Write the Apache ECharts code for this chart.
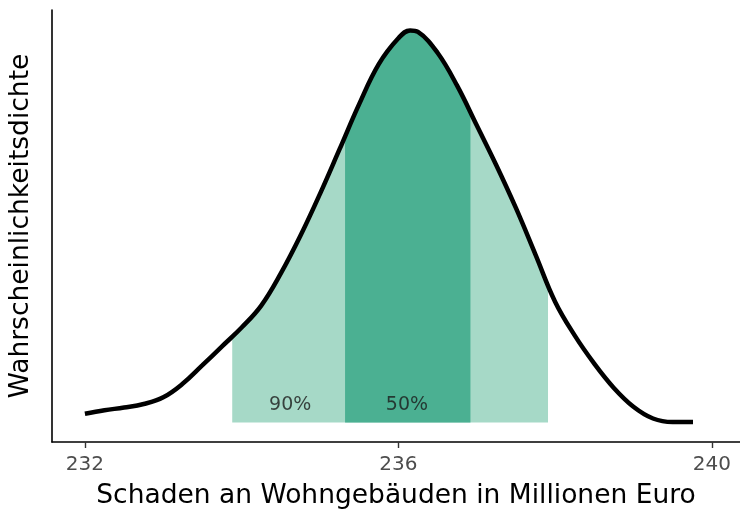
<!DOCTYPE html>
<html>
<head>
<meta charset="utf-8">
<script src="https://cdn.jsdelivr.net/npm/echarts@6/dist/echarts.min.js"></script>
<style>
  html, body { margin: 0; padding: 0; background: #fff; }
  #chart { width: 740px; height: 515px; }
</style>
</head>
<body>
<div id="chart"></div>
<script>
// density curve (x in Mio. Euro, y relative density)
const curveX = [232.00, 232.25, 232.50, 232.75, 233.00, 233.25, 233.50, 233.75, 234.00, 234.25,
  234.50, 234.75, 235.00, 235.25, 235.50, 235.75, 236.00, 236.15, 236.25, 236.50,
  236.75, 237.00, 237.25, 237.50, 237.75, 238.00, 238.25, 238.50, 238.75, 239.00,
  239.25, 239.50, 239.76];
const curveY = [0.022, 0.031, 0.038, 0.047, 0.064, 0.099, 0.146, 0.194, 0.242, 0.298,
  0.380, 0.476, 0.583, 0.697, 0.812, 0.914, 0.980, 1.000, 0.996, 0.943,
  0.859, 0.758, 0.656, 0.547, 0.428, 0.308, 0.222, 0.150, 0.088, 0.040,
  0.010, 0.001, 0.001];

// interval bounds and the curve height at each bound
const band90 = [233.88, 237.91];
const band90Top = [0.217, 0.349];
const band50 = [235.32, 236.92];
const band50Top = [0.729, 0.789];

const bandLabels = ['90%', '50%'];
const bandLabelX = [234.62, 236.11];
const bandLabelY = 0.045;

const tickValues = [232, 236, 240];

const curve = curveX.map((x, i) => [x, curveY[i]]);

function bandData(range, tops) {
  const inner = curve.filter(p => p[0] > range[0] && p[0] < range[1]);
  return [[range[0], tops[0]], ...inner, [range[1], tops[1]]];
}

const fontFamily = 'DejaVu Sans';
const smooth = 0.4;

echarts.init(document.getElementById('chart')).setOption({
  animation: false,
  grid: { left: 52, right: 0, top: 10, bottom: 72 },
  xAxis: {
    type: 'value',
    min: 231.58,
    max: 240.36,
    name: 'Schaden an Wohngebäuden in Millionen Euro',
    nameLocation: 'middle',
    nameGap: 41,
    nameTextStyle: { fontFamily, fontSize: 26.5, color: '#000' },
    axisLine: { show: true, onZero: false, lineStyle: { color: '#000', width: 1.6 } },
    axisTick: { show: true, length: 6, customValues: tickValues, lineStyle: { color: '#333', width: 1.4 } },
    axisLabel: { customValues: tickValues, fontFamily, fontSize: 20, color: '#4d4d4d', margin: 13 },
    splitLine: { show: false }
  },
  yAxis: {
    type: 'value',
    min: -0.05,
    max: 1.052,
    name: 'Wahrscheinlichkeitsdichte',
    nameLocation: 'middle',
    nameGap: 17,
    nameTextStyle: { fontFamily, fontSize: 26.5, color: '#000' },
    axisLine: { show: true, onZero: false, lineStyle: { color: '#000', width: 1.6 } },
    axisTick: { show: false },
    axisLabel: { show: false },
    splitLine: { show: false }
  },
  series: [
    {
      type: 'line',
      data: bandData(band90, band90Top),
      smooth,
      showSymbol: false,
      lineStyle: { width: 0 },
      areaStyle: { color: '#a6d9c7', opacity: 1, origin: 0 },
      z: 1
    },
    {
      type: 'line',
      data: bandData(band50, band50Top),
      smooth,
      showSymbol: false,
      lineStyle: { width: 0 },
      areaStyle: { color: '#4bb092', opacity: 1, origin: 0 },
      z: 2
    },
    {
      type: 'line',
      data: curve,
      smooth,
      showSymbol: false,
      lineStyle: { color: '#000', width: 4.5 },
      z: 3
    },
    {
      type: 'scatter',
      data: bandLabels.map((t, i) => [bandLabelX[i], bandLabelY, t]),
      symbolSize: 0,
      label: {
        show: true,
        position: 'inside',
        formatter: p => p.value[2],
        fontFamily,
        fontSize: 19,
        color: '#1a1a1a'
      },
      z: 4
    }
  ]
});
</script>
</body>
</html>
